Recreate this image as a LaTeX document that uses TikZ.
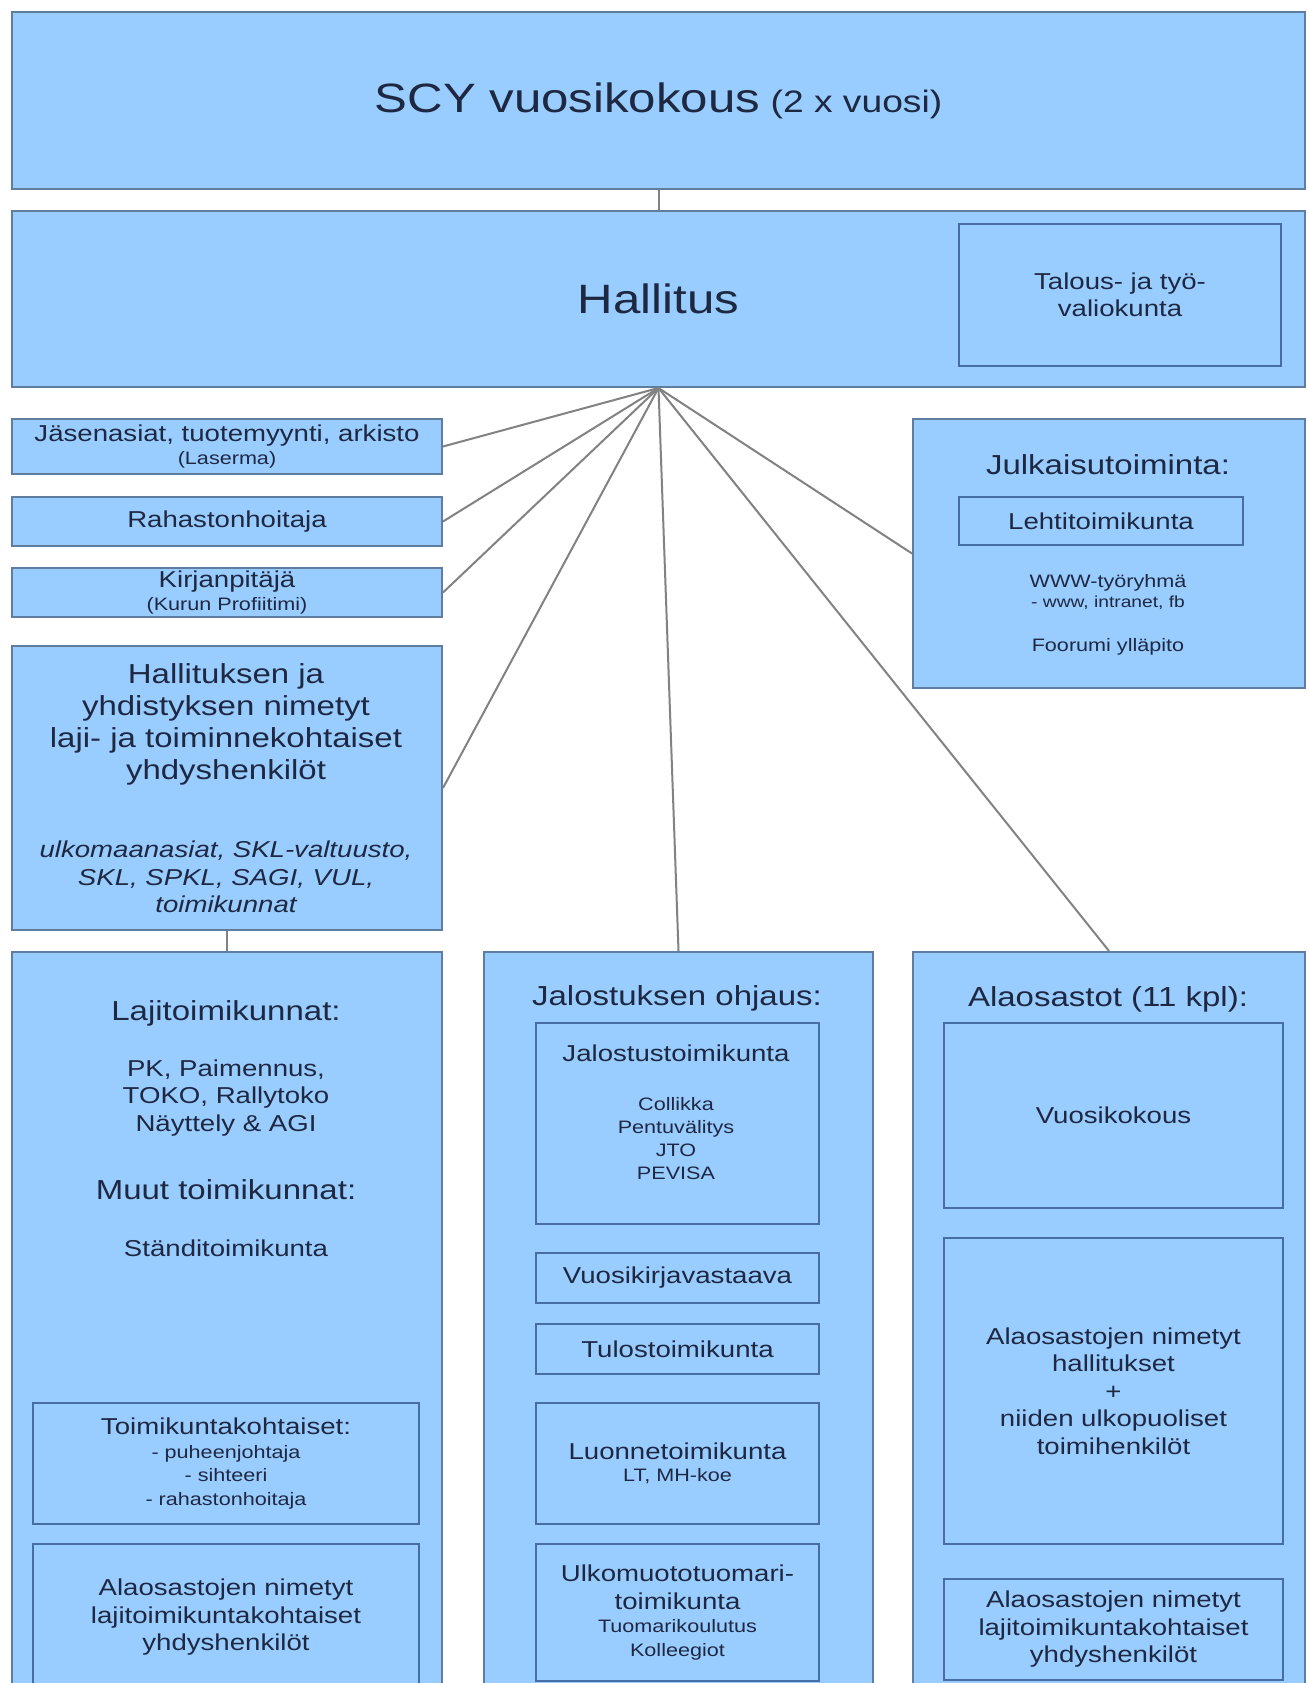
\documentclass[tikz,border=0pt]{standalone}
\usepackage{fontspec}
\setmainfont[FakeStretch=1.2]{Liberation Sans}
\newcommand\fsBig{\fontsize{41}{48}\selectfont}
\newcommand\fsMid{\fontsize{31}{36}\selectfont}
\newcommand\fsHead{\fontsize{27.5}{32}\selectfont}
\newcommand\fsNorm{\fontsize{23}{27.5}\selectfont}
\newcommand\fsSmall{\fontsize{18}{23}\selectfont}
\newcommand\fsTiny{\fontsize{16}{21}\selectfont}
\definecolor{boxblue}{RGB}{153,204,255}
\definecolor{bordO}{RGB}{95,125,160}
\definecolor{bordI}{RGB}{70,110,165}
\definecolor{txt}{RGB}{30,40,65}
\definecolor{lineg}{RGB}{130,130,130}
\begin{document}
\begin{tikzpicture}[x=1pt,y=-1pt,
  outer/.style={draw=bordO, line width=2pt, fill=boxblue, text=txt, align=center, inner sep=0pt, anchor=north west},
  innerbox/.style={draw=bordI, line width=2pt, fill=boxblue, text=txt, align=center, inner sep=0pt, anchor=north west},
  lbl/.style={text=txt, align=center, inner sep=0pt},
  conn/.style={draw=lineg, line width=2pt}]
\useasboundingbox[fill=white] (0,0) rectangle (1306,1683);

% top level
\node[outer, minimum width=1293pt, minimum height=177pt] (top) at (11,11) {{\fsBig SCY vuosikokous}{\fsMid\ (2 x vuosi)}};
\node[outer, minimum width=1293pt, minimum height=176pt, font=\fsBig] (hall) at (11,210) {Hallitus};
\node[innerbox, minimum width=322pt, minimum height=142pt, font=\fsNorm] (talous) at (958,223) {Talous- ja työ-\\valiokunta};

% left column
\node[outer, minimum width=430pt, minimum height=55pt, font=\fsNorm] (jasen) at (11,418) {Jäsenasiat, tuotemyynti, arkisto\\[-4pt]{\fsSmall (Laserma)}};
\node[outer, minimum width=430pt, minimum height=49pt, font=\fsNorm] (rahasto) at (11,496) {Rahastonhoitaja};
\node[outer, minimum width=430pt, minimum height=49pt, font=\fsNorm] (kirjan) at (11,567) {Kirjanpitäjä\\[-5pt]{\fsSmall (Kurun Profiitimi)}};
\node[outer, minimum width=430pt, minimum height=284pt] (hallit) at (11,645) {};
\node[lbl, font=\fsHead] (hallitA) at (226,724) {Hallituksen ja\\yhdistyksen nimetyt\\laji- ja toiminnekohtaiset\\yhdyshenkilöt};
\node[lbl, font=\fsNorm\itshape] (hallitB) at (226,877) {ulkomaanasiat, SKL-valtuusto,\\SKL, SPKL, SAGI, VUL,\\toimikunnat};

% Julkaisutoiminta
\node[outer, minimum width=392pt, minimum height=269pt] (julk) at (912,418) {};
\node[lbl, font=\fsHead] (julkT) at (1108,465) {Julkaisutoiminta:};
\node[innerbox, minimum width=284pt, minimum height=48pt, font=\fsNorm] (lehti) at (958,496) {Lehtitoimikunta};
\node[lbl, font=\fsSmall] (www) at (1108,592) {WWW-työryhmä\\[-3pt]{\fsTiny - www, intranet, fb}};
\node[lbl, font=\fsSmall] (foor) at (1108,647) {Foorumi ylläpito};

% Lajitoimikunnat column
\node[outer, minimum width=430pt, minimum height=750pt] (lajit) at (11,951) {};
\node[lbl, font=\fsHead] (lajitT) at (226,1013) {Lajitoimikunnat:};
\node[lbl, font=\fsNorm] (lajitL) at (226,1098) {PK, Paimennus,\\TOKO, Rallytoko\\Näyttely \& AGI};
\node[lbl, font=\fsHead] (muutT) at (226,1190) {Muut toimikunnat:};
\node[lbl, font=\fsNorm] (standi) at (226,1248) {Ständitoimikunta};
\node[innerbox, minimum width=386pt, minimum height=121pt, font=\fsNorm] (tkk) at (32,1402) {Toimikuntakohtaiset:\\[-4pt]{\fsSmall - puheenjohtaja}\\[-4pt]{\fsSmall - sihteeri}\\[-4pt]{\fsSmall - rahastonhoitaja}};
\node[innerbox, minimum width=386pt, minimum height=147pt, font=\fsNorm] (alaL) at (32,1543) {Alaosastojen nimetyt\\lajitoimikuntakohtaiset\\yhdyshenkilöt};

% Jalostuksen ohjaus column
\node[outer, minimum width=389pt, minimum height=750pt] (jalost) at (483,951) {};
\node[lbl, font=\fsHead] (jalostT) at (677,998) {Jalostuksen ohjaus:};
\node[innerbox, minimum width=283pt, minimum height=201pt] (jtk) at (535,1022) {};
\node[lbl, font=\fsNorm] (jtkT) at (676,1053) {Jalostustoimikunta};
\node[lbl, font=\fsSmall] (jtkL) at (676,1139) {Collikka\\Pentuvälitys\\JTO\\PEVISA};
\node[innerbox, minimum width=283pt, minimum height=50pt, font=\fsNorm] (vkirja) at (535,1252) {Vuosikirjavastaava};
\node[innerbox, minimum width=283pt, minimum height=50pt, font=\fsNorm] (tulos) at (535,1323) {Tulostoimikunta};
\node[innerbox, minimum width=283pt, minimum height=121pt, font=\fsNorm] (luonne) at (535,1402) {Luonnetoimikunta\\[-5pt]{\fsSmall LT, MH-koe}};
\node[innerbox, minimum width=283pt, minimum height=137pt, font=\fsNorm] (ulko) at (535,1543) {Ulkomuototuomari-\\toimikunta\\[-4pt]{\fsSmall Tuomarikoulutus}\\[-4pt]{\fsSmall Kolleegiot}};

% Alaosastot column
\node[outer, minimum width=392pt, minimum height=750pt] (alaos) at (912,951) {};
\node[lbl, font=\fsHead] (alaosT) at (1108,999) {Alaosastot (11 kpl):};
\node[innerbox, minimum width=339pt, minimum height=185pt, font=\fsNorm] (vkok) at (943,1022) {Vuosikokous};
\node[innerbox, minimum width=339pt, minimum height=306pt, font=\fsNorm] (ahall) at (943,1237) {Alaosastojen nimetyt\\hallitukset\\+\\niiden ulkopuoliset\\toimihenkilöt};
\node[innerbox, minimum width=339pt, minimum height=101pt, font=\fsNorm] (alaR) at (943,1578) {Alaosastojen nimetyt\\lajitoimikuntakohtaiset\\yhdyshenkilöt};

% connectors
\coordinate (hub) at (hall.south);
\draw[conn] (top.south) -- (hall.north);
\draw[conn] (hub) -- (jasen.east);
\draw[conn] (hub) -- (rahasto.east);
\draw[conn] (hub) -- (kirjan.east);
\draw[conn] (hub) -- (hallit.east);
\draw[conn] (hub) -- (jalost.north);
\draw[conn] (hub) -- (alaos.north);
\draw[conn] (hub) -- (julk.west);
\draw[conn] (hallit.south) -- (lajit.north);
\end{tikzpicture}
\end{document}
